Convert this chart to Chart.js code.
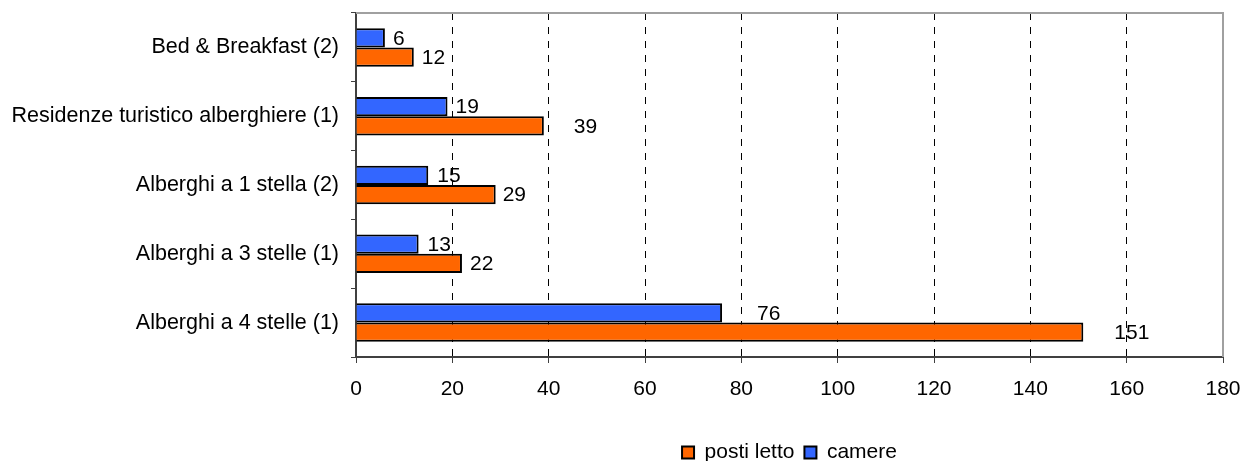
<!DOCTYPE html>
<html>
<head>
<meta charset="utf-8">
<script src="https://cdn.jsdelivr.net/npm/chart.js@4/dist/chart.umd.min.js"></script>
<style>
  html, body { margin: 0; padding: 0; background: #fff; overflow: hidden; }
  #wrap { width: 1246px; height: 461px; }
</style>
</head>
<body>
<div id="wrap"><canvas id="myChart" width="1246" height="461"></canvas></div>
<script>
const categories = ['Bed & Breakfast (2)', 'Residenze turistico alberghiere (1)', 'Alberghi a 1 stella (2)', 'Alberghi a 3 stelle (1)', 'Alberghi a 4 stelle (1)'];
const camere = [6, 19, 15, 13, 76];
const postiLetto = [12, 39, 29, 22, 151];
const xTicks = [0, 20, 40, 60, 80, 100, 120, 140, 160, 180];

const FONT = "'Liberation Sans', Arial, sans-serif";
Chart.defaults.font.family = FONT;
Chart.defaults.font.size = 21;
Chart.defaults.color = '#000';

// excel puts some labels further out, keep that look
const labelGap = {
    camere: [8, 8, 9, 9, 35],
    posti: [8, 30, 7, 8, 31]
};

const barLabels = {
    id: 'barLabels',
    afterDatasetsDraw(chart) {
        const ctx = chart.ctx;
        ctx.save();
        ctx.font = '21px ' + FONT;
        ctx.fillStyle = '#000';
        ctx.textBaseline = 'middle';
        ctx.textAlign = 'left';
        chart.data.datasets.forEach((ds, di) => {
            const gaps = di === 0 ? labelGap.camere : labelGap.posti;
            chart.getDatasetMeta(di).data.forEach((bar, i) => {
                ctx.fillText(ds.data[i], bar.x + gaps[i], bar.y + 1);
            });
        });
        ctx.restore();
    }
};

const frame = {
    id: 'frame',
    afterLayout(chart) {
        // center legend over the plot, like excel does
        const a = chart.chartArea;
        if (chart.legend) {
            chart.legend.left = a.left;
            chart.legend.right = a.right;
        }
    },
    beforeDatasetsDraw(chart) {
        const a = chart.chartArea;
        const ctx = chart.ctx;
        ctx.save();
        ctx.strokeStyle = '#a0a0a0';
        ctx.lineWidth = 2;
        ctx.beginPath();
        ctx.moveTo(a.left, a.top);
        ctx.lineTo(a.right, a.top);
        ctx.lineTo(a.right, a.bottom);
        ctx.stroke();
        ctx.restore();
    }
};

const ctx = document.getElementById('myChart').getContext('2d');
new Chart(ctx, {
    type: 'bar',
    data: {
        labels: categories,
        datasets: [
            {
                label: 'camere',
                data: camere,
                backgroundColor: '#3366FF',
                borderColor: '#000',
                borderWidth: 2,
                categoryPercentage: 0.56,
                barPercentage: 1.0
            },
            {
                label: 'posti letto',
                data: postiLetto,
                backgroundColor: '#FF6600',
                borderColor: '#000',
                borderWidth: 2,
                categoryPercentage: 0.56,
                barPercentage: 1.0
            }
        ]
    },
    options: {
        indexAxis: 'y',
        responsive: false,
        animation: false,
        layout: { padding: { top: 13, right: 23, left: 0, bottom: -12 } },
        plugins: {
            legend: {
                position: 'bottom',
                reverse: true,
                labels: {
                    boxWidth: 12,
                    boxHeight: 12,
                    padding: 10,
                    color: '#000',
                    font: { size: 21, family: FONT }
                }
            },
            tooltip: { enabled: false }
        },
        scales: {
            x: {
                min: 0,
                max: 180,
                afterBuildTicks(scale) {
                    scale.ticks = xTicks.map(v => ({ value: v }));
                },
                afterFit(scale) {
                    scale.height = 75;
                    scale.paddingLeft = 0;
                    scale.paddingRight = 0;
                },
                grid: {
                    color: c => (c.tick && (c.tick.value === 0 || c.tick.value === 180)) ? 'rgba(0,0,0,0)' : '#000',
                    lineWidth: 1,
                    tickColor: '#404040',
                    tickLength: 6,
                    tickWidth: 1
                },
                border: { color: '#404040', width: 2, dash: [7, 7] },
                ticks: { padding: 14, color: '#000', font: { size: 21 } }
            },
            y: {
                afterFit(scale) {
                    scale.width = 356;
                    scale.paddingTop = 0;
                    scale.paddingBottom = 0;
                },
                grid: {
                    drawOnChartArea: false,
                    offset: true,
                    tickColor: '#404040',
                    tickLength: 5
                },
                border: { color: '#404040', width: 2 },
                ticks: { padding: 12, color: '#000', font: { size: 21.5 } }
            }
        }
    },
    plugins: [barLabels, frame]
});
</script>
</body>
</html>
